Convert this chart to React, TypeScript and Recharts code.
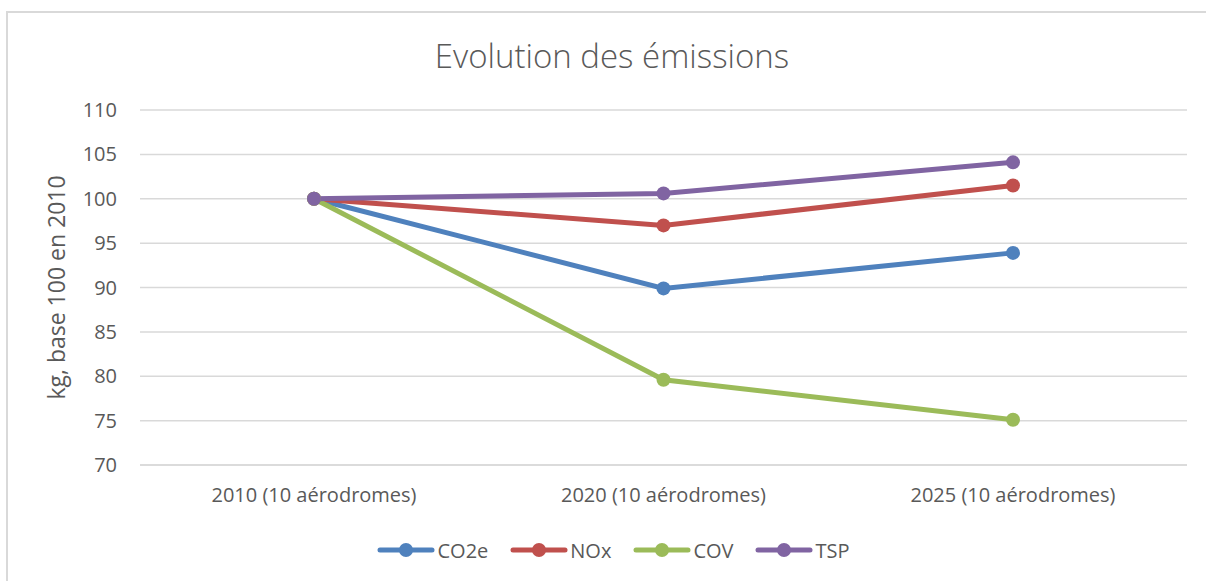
import { LineChart, Line, XAxis, YAxis, CartesianGrid, Legend } from "recharts";

const categories = [
  "2010 (10 aérodromes)",
  "2020 (10 aérodromes)",
  "2025 (10 aérodromes)",
];
const co2e = [100, 89.9, 93.9];
const nox = [100, 97.0, 101.5];
const cov = [100, 79.6, 75.1];
const tsp = [100, 100.6, 104.1];
const yTicks = [70, 75, 80, 85, 90, 95, 100, 105, 110];

const series = [
  { key: "CO2e", color: "#4f81bd" },
  { key: "NOx", color: "#c0504d" },
  { key: "COV", color: "#9bbb59" },
  { key: "TSP", color: "#8064a2" },
];

const data = categories.map((c, i) => ({
  name: c,
  CO2e: co2e[i],
  NOx: nox[i],
  COV: cov[i],
  TSP: tsp[i],
}));

const FONT = "'Open Sans', sans-serif";
const TEXT = "#595959";

function LegendContent() {
  return (
    <div
      style={{
        height: 62,
        display: "flex",
        alignItems: "center",
        justifyContent: "center",
        fontFamily: FONT,
        fontSize: 20,
        color: TEXT,
        paddingLeft: 62,
        boxSizing: "border-box",
      }}
    >
      {series.map((s) => (
        <div
          key={s.key}
          style={{ display: "flex", alignItems: "center", marginRight: 22 }}
        >
          <svg width={58} height={16} style={{ marginRight: 2 }}>
            <line
              x1={3}
              y1={8}
              x2={55}
              y2={8}
              stroke={s.color}
              strokeWidth={5}
              strokeLinecap="round"
            />
            <circle cx={29} cy={8} r={7} fill={s.color} />
          </svg>
          <span>{s.key}</span>
        </div>
      ))}
    </div>
  );
}

export default function App() {
  return (
    <div
      style={{
        position: "absolute",
        left: 0,
        top: 0,
        width: 1206,
        height: 581,
        background: "#fff",
        overflow: "hidden",
      }}
    >
      <div
        style={{
          position: "absolute",
          left: 6,
          top: 11,
          width: 1210,
          height: 580,
          borderTop: "2px solid #d9d9d9",
          borderLeft: "2px solid #d9d9d9",
        }}
      />
      <div
        style={{
          position: "absolute",
          top: 33,
          left: 0,
          width: 1224,
          textAlign: "center",
          fontFamily: FONT,
          fontWeight: 300,
          fontSize: 33,
          color: TEXT,
        }}
      >
        Evolution des émissions
      </div>
      <LineChart
        width={1206}
        height={581}
        data={data}
        margin={{ top: 110, right: 19, left: 0, bottom: 0 }}
        style={{ position: "absolute", left: 0, top: 0 }}
      >
        <CartesianGrid
          vertical={false}
          stroke="#d9d9d9"
          strokeWidth={1.5}
        />
        <XAxis
          dataKey="name"
          height={54}
          padding={{ left: 174, right: 174 }}
          tickLine={false}
          axisLine={{ stroke: "#d9d9d9", strokeWidth: 1.5 }}
          tickMargin={17}
          tick={{ fill: TEXT, fontSize: 20, fontFamily: FONT }}
        />
        <YAxis
          width={140}
          domain={[70, 110]}
          ticks={yTicks}
          interval={0}
          tickLine={false}
          axisLine={false}
          tickMargin={17}
          tick={{ fill: TEXT, fontSize: 20, fontFamily: FONT }}
          label={{
            value: "kg, base 100 en 2010",
            angle: -90,
            position: "insideLeft",
            dx: 52,
            style: { fill: TEXT, fontSize: 23, fontFamily: FONT, textAnchor: "middle" },
          }}
        />
        <Legend
          verticalAlign="bottom"
          content={<LegendContent />}
          wrapperStyle={{ height: 62 }}
        />
        {series.map((s) => (
          <Line
            key={s.key}
            type="linear"
            dataKey={s.key}
            stroke={s.color}
            strokeWidth={5}
            dot={{ r: 7, fill: s.color, stroke: s.color, strokeWidth: 0 }}
            activeDot={false}
            isAnimationActive={false}
          />
        ))}
      </LineChart>
    </div>
  );
}
